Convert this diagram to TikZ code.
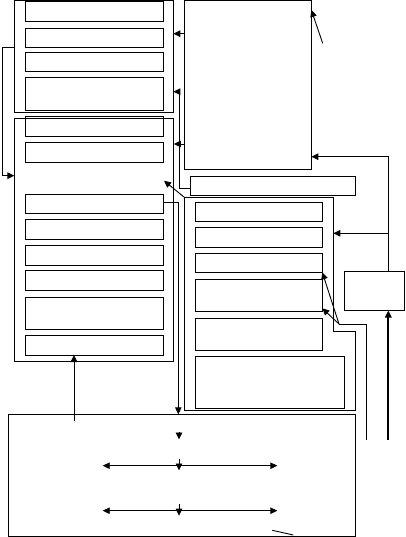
\documentclass[tikz,border=0pt]{standalone}
\usetikzlibrary{arrows.meta}
\begin{document}
\begin{tikzpicture}[x=1pt,y=-1pt,
  box/.style={draw, line width=0.9pt, inner sep=0pt, outer sep=0pt},
  wire/.style={line width=0.9pt},
  arr/.style={wire, -{Triangle[length=7pt,width=6.5pt]}},
  arrboth/.style={wire, {Triangle[length=7pt,width=6.5pt]}-{Triangle[length=7pt,width=6.5pt]}},
  stackbox/.style={box, minimum width=138pt},
  rstackbox/.style={box, minimum width=126.6pt}]
\useasboundingbox (0,0) rectangle (405,537);
% big frames
\node[box, minimum width=159pt, minimum height=111.5pt] (outer1) at (93.8,56.25) {};
\node[box, minimum width=159.5pt, minimum height=243.4pt] (outer2) at (94.05,240) {};
\node[box, minimum width=127pt, minimum height=168.6pt] (big) at (247.8,85) {};
\node[box, minimum width=165.3pt, minimum height=19.3pt] (bar) at (272.65,185.65) {};
\node[box, minimum width=60.3pt, minimum height=39pt] (small) at (374.15,291) {};
\node[box, minimum width=346.7pt, minimum height=121.7pt] (bottom) at (181.65,475.15) {};
\coordinate (o3nw) at (184.3,197.3);
\coordinate (o3ne) at (333.3,197.3);
\coordinate (o3s1) at (333.3,331.7);
\coordinate (o3s2) at (355.3,331.7);
\coordinate (o3se) at (355.3,410.7);
\coordinate (o3sw) at (184.3,410.7);
\draw[wire] (o3nw) -- (o3ne) -- (o3s1) -- (o3s2) -- (o3se) -- (o3sw) -- cycle;
% upper stack
\node[stackbox, minimum height=20.7pt] (u1) at (94,11.35) {};
\node[stackbox, minimum height=19.7pt] (u2) at (94,37.85) {};
\node[stackbox, minimum height=19pt] (u3) at (94,61.8) {};
\node[stackbox, minimum height=32.6pt] (u4) at (94,94) {};
% lower stack
\node[stackbox, minimum height=20pt] (l1) at (94,126.3) {};
\node[stackbox, minimum height=20pt] (l2) at (94,152.3) {};
\node[stackbox, minimum height=19.7pt] (l3) at (94,203.85) {};
\node[stackbox, minimum height=20pt] (l4) at (94,229.3) {};
\node[stackbox, minimum height=20pt] (l5) at (94,255.3) {};
\node[stackbox, minimum height=19.6pt] (l6) at (94,280.5) {};
\node[stackbox, minimum height=32.3pt] (l7) at (94,313.15) {};
\node[stackbox, minimum height=19.7pt] (l8) at (94,345.15) {};
% right stack
\node[rstackbox, minimum height=19.4pt] (r1) at (259,212) {};
\node[rstackbox, minimum height=19.6pt] (r2) at (259,237.5) {};
\node[rstackbox, minimum height=19pt] (r3) at (259,262.8) {};
\node[rstackbox, minimum height=32.7pt] (r4) at (259,295.35) {};
\node[rstackbox, minimum height=32.3pt] (r5) at (259,334.15) {};
\node[box, minimum width=148.6pt, minimum height=52.4pt] (r6) at (270,382.5) {};
% helper coordinates
\coordinate (h1) at (0,47.3);
\coordinate (h2) at (2.7,175.7);
\coordinate (h3) at (0,33.7);
\coordinate (h4) at (179.3,91.7);
\coordinate (h4b) at (179.3,188.3);
\coordinate (h5) at (0,144);
\coordinate (h6) at (0,10);
\coordinate (f1) at (322.7,43.3);
\coordinate (h7) at (0,156.7);
\coordinate (v1) at (388.3,0);
\coordinate (h8) at (388.3,233.3);
\coordinate (v2) at (178.3,202.3);
\coordinate (f2) at (164,180.7);
\coordinate (f3) at (366.7,440);
\coordinate (j1) at (339,324);
\coordinate (h9) at (0,308.3);
\coordinate (f4) at (388.3,440);
\coordinate (f5) at (74,420.7);
\coordinate (t1) at (179,431.5);
\coordinate (t2) at (179,439.5);
\coordinate (a1) at (102.7,465.7);
\coordinate (a2) at (277.3,465.7);
\coordinate (k1) at (179,459);
\coordinate (k2) at (179,470.5);
\coordinate (b1) at (102.7,510.7);
\coordinate (b2) at (277.3,510.7);
\coordinate (m1) at (179,504.3);
\coordinate (m2) at (179,515.7);
\coordinate (f6) at (272.3,530.3);
\coordinate (f7) at (293.3,535);
% connectors
\draw[arr, line width=1.3pt] (outer1.west |- h1) -| (h2) -- (outer2.west |- h2);
\draw[arr] (big.west |- h3) -- (outer1.east |- h3);
\draw[arr] (bar.west |- h4b) -- (h4b) -- (h4) -- (outer1.east |- h4);
\draw[arr] (big.west |- h5) -- (outer2.east |- h5);
\draw[arr] (f1) -- (big.east |- h6);
\draw[arr] (small.north -| v1) |- (big.east |- h7);
\draw[arr] (h8) -- (o3ne |- h8);
\draw[arr] (l3.east |- v2) -- (v2) -- (bottom.north -| v2);
\draw[arr] (o3nw) -- (f2);
\draw[wire] (f3) |- (j1);
\draw[arr] (j1) -- (r3.south east);
\draw[arr] (j1) -- (r4.east |- h9);
\draw[arr, line width=2pt] (f4) -- (small.south -| f4);
\draw[arr] (f5) -- (l8.south -| f5);
\draw[arr] (t1) -- (t2);
\draw[arrboth] (a1) -- (a2);
\draw[arr] (k1) -- (k2);
\draw[arrboth] (b1) -- (b2);
\draw[arr] (m1) -- (m2);
\draw[wire] (f6) -- (f7);
\end{tikzpicture}
\end{document}
